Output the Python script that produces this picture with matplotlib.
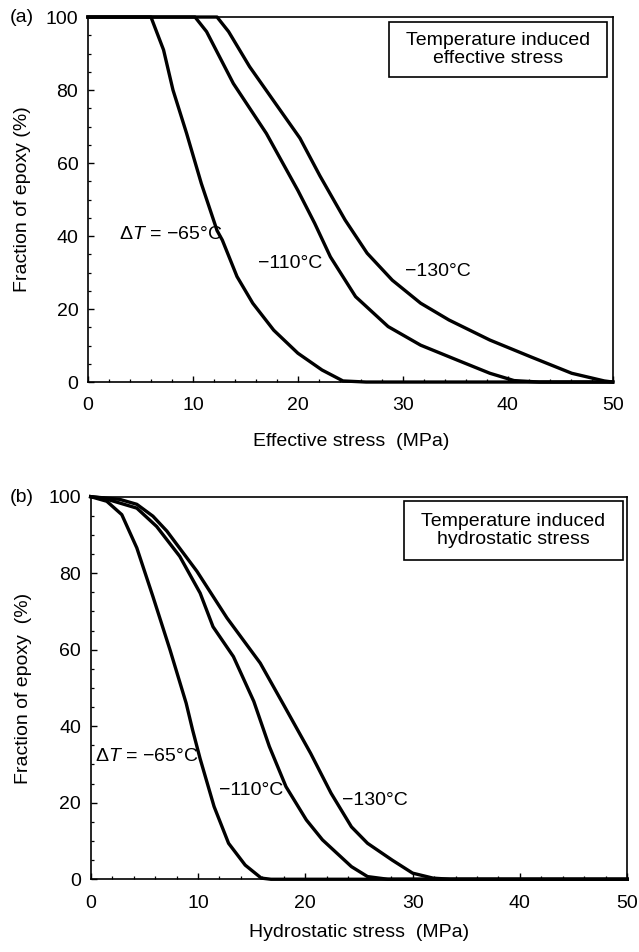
import matplotlib
matplotlib.use("Agg")
import matplotlib.pyplot as plt
from matplotlib.ticker import MultipleLocator
from matplotlib.patches import Rectangle

plt.rcParams['font.family'] = ['Liberation Sans', 'DejaVu Sans']
plt.rcParams['mathtext.fontset'] = 'custom'
plt.rcParams['mathtext.rm'] = 'Liberation Sans'
plt.rcParams['mathtext.it'] = 'Liberation Sans:italic'

# ---- Data: panel (a) effective stress ----
eff_65_x = [0, 6.0, 7.2, 8.1, 9.4, 10.8, 12.3, 12.8, 14.2, 15.7, 17.7, 20.0, 22.3, 24.3, 26.5, 50]
eff_65_y = [100, 100, 91.0, 80.0, 68.1, 54.4, 41.5, 38.9, 28.9, 21.6, 14.2, 7.9, 3.3, 0.3, 0, 0]
eff_110_x = [0, 10.2, 11.3, 13.85, 17.0, 20.0, 21.6, 23.1, 25.5, 28.6, 31.7, 35.2, 38.3, 40.6, 43.0, 50]
eff_110_y = [100, 100, 96.0, 81.8, 68.1, 52.5, 43.5, 34.3, 23.4, 15.2, 10.1, 6.0, 2.4, 0.4, 0, 0]
eff_130_x = [0, 12.3, 13.4, 15.4, 17.7, 20.2, 22.1, 24.5, 26.6, 29.0, 31.7, 34.4, 38.3, 42.2, 46.1, 49.2, 50]
eff_130_y = [100, 100, 96.0, 86.4, 77.0, 66.8, 56.5, 44.4, 35.3, 27.9, 21.6, 17.0, 11.5, 6.9, 2.4, 0.3, 0]

# ---- Data: panel (b) hydrostatic stress ----
hyd_65_x = [0, 1.5, 2.9, 4.3, 5.8, 7.4, 8.9, 9.5, 10.2, 11.5, 12.85, 14.4, 15.9, 16.8, 50]
hyd_65_y = [100, 98.8, 95.3, 86.6, 73.9, 59.9, 46.0, 39.0, 31.5, 19.0, 9.4, 3.7, 0.3, 0, 0]
hyd_110_x = [0, 1.2, 4.3, 6.15, 8.3, 10.2, 11.4, 13.3, 15.2, 16.65, 18.2, 20.1, 21.6, 24.3, 25.8, 27.7, 50]
hyd_110_y = [100, 99.6, 97.0, 92.2, 84.4, 74.8, 66.0, 58.2, 46.5, 34.7, 24.2, 15.5, 10.3, 3.3, 0.7, 0, 0]
hyd_130_x = [0, 2.7, 4.3, 5.8, 7.1, 9.9, 12.7, 15.8, 18.0, 20.5, 22.4, 24.3, 25.8, 28.1, 30.0, 31.9, 33.5, 50]
hyd_130_y = [100, 99.3, 98.0, 94.9, 91.0, 80.5, 68.3, 56.5, 45.5, 32.9, 22.5, 13.7, 9.4, 5.0, 1.6, 0.3, 0, 0]

x_ticks = [0, 10, 20, 30, 40, 50]
y_ticks = [0, 20, 40, 60, 80, 100]

fig = plt.figure(figsize=(6.39, 9.52), dpi=100)

FS = 14
LW = 2.4


def style(ax):
    ax.set_xlim(0, 50)
    ax.set_ylim(0, 100)
    ax.set_xticks(x_ticks)
    ax.set_yticks(y_ticks)
    ax.xaxis.set_minor_locator(MultipleLocator(2))
    ax.yaxis.set_minor_locator(MultipleLocator(5))
    ax.tick_params(which='both', direction='in', top=False, right=False)
    ax.tick_params(which='major', length=4, width=1.0, labelsize=FS)
    ax.tick_params(axis='x', which='major', pad=11)
    ax.tick_params(axis='y', which='major', pad=7)
    ax.tick_params(which='minor', length=2.5, width=0.9)
    for s in ax.spines.values():
        s.set_linewidth(1.2)


# ---- Panel (a) ----
ax1 = fig.add_axes([0.1377, 0.5987, 0.8211, 0.3834])
style(ax1)
for xs, ys in [(eff_65_x, eff_65_y), (eff_110_x, eff_110_y), (eff_130_x, eff_130_y)]:
    ax1.plot(xs, ys, color='black', lw=LW, solid_joinstyle='round', clip_on=False)
ax1.set_xlabel('Effective stress  (MPa)', fontsize=FS)
ax1.xaxis.set_label_coords(0.501, -0.162)
ax1.xaxis.label.set_va('center')
ax1.set_ylabel('Fraction of epoxy (%)', fontsize=FS)
ax1.yaxis.set_label_coords(-0.124, 0.5)
ax1.yaxis.label.set_va('center')
ax1.text(3.0, 40.3, r'$\mathit{\Delta T}$ = −65°C', fontsize=FS, va='center', ha='left')
ax1.text(16.2, 32.5, '−110°C', fontsize=FS, va='center', ha='left')
ax1.text(30.2, 30.2, '−130°C', fontsize=FS, va='center', ha='left')
ax1.add_patch(Rectangle((0.574, 0.836), 0.415, 0.150, transform=ax1.transAxes,
                        fill=True, facecolor='white', edgecolor='black', lw=1.2, zorder=5))
ax1.text(0.781, 0.911, 'Temperature induced\neffective stress', transform=ax1.transAxes,
         fontsize=FS, ha='center', va='center', linespacing=1.05, zorder=6)
fig.text(10 / 639, 1 - 17 / 952, '(a)', fontsize=FS, ha='left', va='center')

# ---- Panel (b) ----
ax2 = fig.add_axes([0.1419, 0.0764, 0.8397, 0.4019])
style(ax2)
for xs, ys in [(hyd_65_x, hyd_65_y), (hyd_110_x, hyd_110_y), (hyd_130_x, hyd_130_y)]:
    ax2.plot(xs, ys, color='black', lw=LW, solid_joinstyle='round', clip_on=False)
ax2.set_xlabel('Hydrostatic stress  (MPa)', fontsize=FS)
ax2.xaxis.set_label_coords(0.5, -0.139)
ax2.xaxis.label.set_va('center')
ax2.set_ylabel('Fraction of epoxy  (%)', fontsize=FS)
ax2.yaxis.set_label_coords(-0.126, 0.5)
ax2.yaxis.label.set_va('center')
ax2.text(0.4, 32, r'$\mathit{\Delta T}$ = −65°C', fontsize=FS, va='center', ha='left')
ax2.text(12.0, 23.3, '−110°C', fontsize=FS, va='center', ha='left')
ax2.text(23.4, 20.7, '−130°C', fontsize=FS, va='center', ha='left')
ax2.add_patch(Rectangle((0.584, 0.835), 0.408, 0.154, transform=ax2.transAxes,
                        fill=True, facecolor='white', edgecolor='black', lw=1.2, zorder=5))
ax2.text(0.788, 0.912, 'Temperature induced\nhydrostatic stress', transform=ax2.transAxes,
         fontsize=FS, ha='center', va='center', linespacing=1.05, zorder=6)
fig.text(10 / 639, 1 - 497 / 952, '(b)', fontsize=FS, ha='left', va='center')

fig.savefig('out.png', dpi=100, facecolor='white')
